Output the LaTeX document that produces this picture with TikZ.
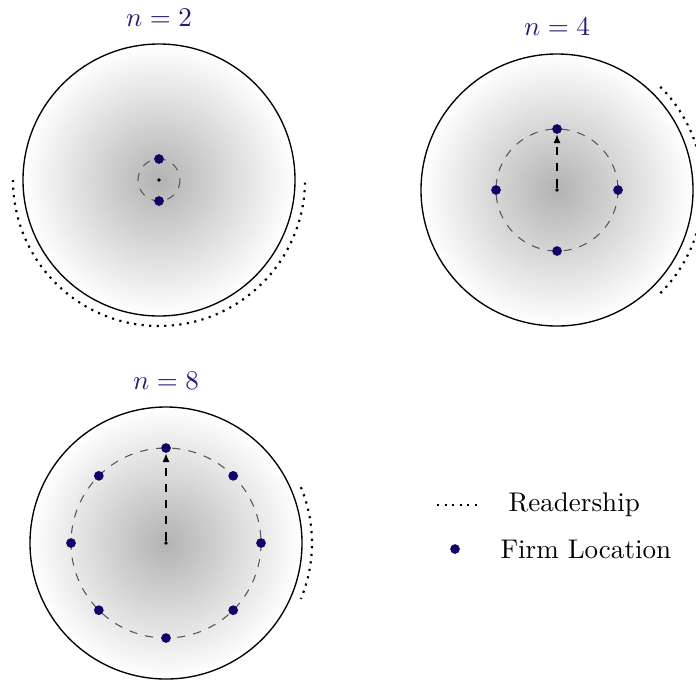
\documentclass[tikz,border=0pt]{standalone}
\usetikzlibrary{arrows.meta,calc}
\definecolor{labcol}{RGB}{35,25,120}
\definecolor{firmcol}{RGB}{22,0,105}
\tikzset{
  market/.style={draw=black, line width=0.5pt, shading=radial, inner color=black!30, outer color=white},
  locring/.style={draw=black!65, dashed, line width=0.4pt},
  firm/.style={circle, fill=firmcol, inner sep=0pt, minimum size=3.6pt},
  ctr/.style={circle, fill=black, inner sep=0pt, minimum size=1.4pt},
  readarc/.style={dotted, line width=0.8pt},
  radius arrow/.style={dashed, line width=0.4pt, -{Latex[length=3.2pt,width=2.6pt]}},
  nlabel/.style={text=labcol, font=\normalsize},
  legtext/.style={anchor=west, font=\normalsize}
}
\begin{document}
\begin{tikzpicture}[x=0.37pt,y=-0.37pt]
\useasboundingbox (0,0) rectangle (696,679);
% ---------- n = 2 ----------
\node[nlabel] (l2) at (159,18) {$n=2$};
\path[market] (159,180) circle[radius=136];
\draw[locring] (159,180) circle[radius=21];
\node[ctr] (c2) at (159,180) {};
\node[firm] (f2a) at (159,159) {};
\node[firm] (f2b) at (159,201) {};
\draw[readarc] (159,180) ++(180:146) arc[start angle=180, end angle=0, radius=146];
% ---------- n = 4 ----------
\node[nlabel] (l4) at (557,27) {$n=4$};
\path[market] (557,190) circle[radius=136];
\draw[locring] (557,190) circle[radius=61];
\node[ctr] (c4) at (557,190) {};
\node[firm] (f4a) at (557,129) {};
\node[firm] (f4b) at (496,190) {};
\node[firm] (f4c) at (618,190) {};
\node[firm] (f4d) at (557,251) {};
\draw[radius arrow] (c4) -- (f4a);
\draw[readarc] (557,190) ++(-45:146) arc[start angle=-45, end angle=45, radius=146];
% ---------- n = 8 ----------
\node[nlabel] (l8) at (166,381) {$n=8$};
\path[market] (166,543) circle[radius=136];
\draw[locring] (166,543) circle[radius=95];
\node[ctr] (c8) at (166,543) {};
\foreach \a/\nm in {90/a,45/b,0/c,-45/d,-90/e,-135/f,180/g,135/h}{
  \node[firm] (f8\nm) at ($(166,543)+({95*cos(\a)},{-95*sin(\a)})$) {};
}
\draw[radius arrow] (c8) -- (f8a);
\draw[readarc] (166,543) ++(-22.5:146) arc[start angle=-22.5, end angle=22.5, radius=146];
% ---------- legend ----------
\coordinate (r1) at (437,505);
\coordinate (r2) at (478,505);
\draw[readarc] (r1) -- (r2);
\node[legtext] (lr) at (499,505) {Readership};
\node[firm] (lf) at (455,549) {};
\node[legtext] (lfl) at (491,549) {Firm Location};
\end{tikzpicture}
\end{document}
